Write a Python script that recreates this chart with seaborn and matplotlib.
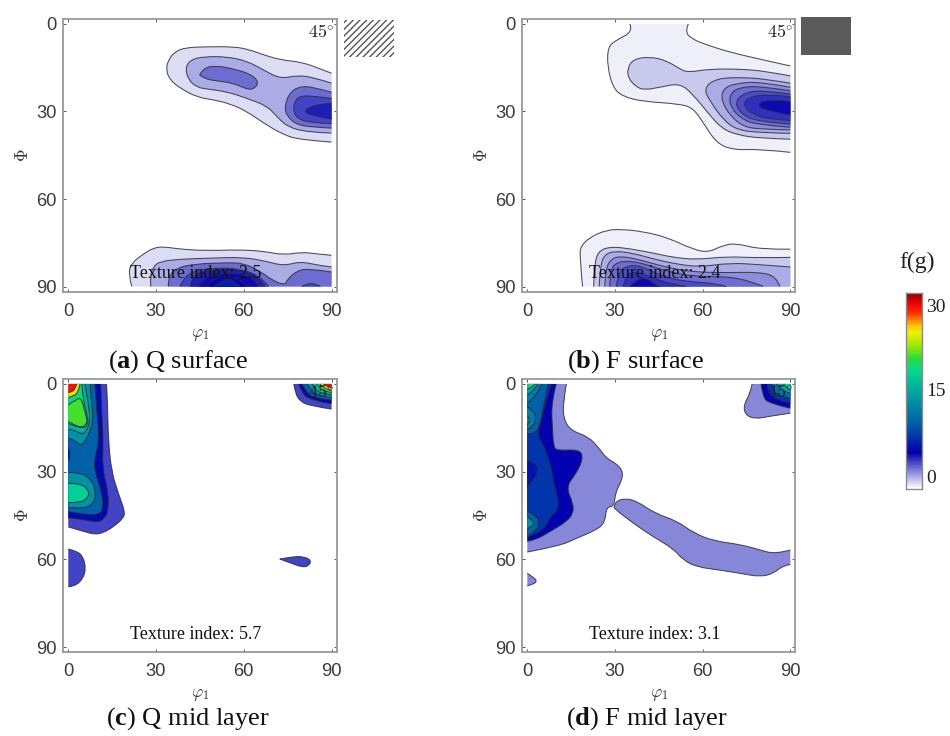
#!/usr/bin/env python3
import numpy as np
import matplotlib
matplotlib.use("Agg")
import matplotlib.pyplot as plt
from matplotlib.colors import LinearSegmentedColormap
from matplotlib.patches import PathPatch, Rectangle
from matplotlib.path import Path
import seaborn as sns

# colour scale of f(g)
scale_values = [0, 5.5, 10, 15, 18, 20, 22, 24, 25, 27, 28.5, 30]
scale_colors = ["#ffffff", "#0000b0", "#0060a8", "#00a8a0", "#00d890", "#28dc40",
                "#a0e800", "#f0f000", "#ffc800", "#ff3000", "#f00000", "#900000"]

# every contour: (level of f(g), outline as (phi1, Phi) pairs)
a_upper = [
    (0.8, [(90, 16.9), (86.2, 15.4), (79.9, 13.1), (72.5, 12.3), (66.8, 10.6), (61.6, 8.7), (56.5, 7.8), (47.4, 7.8),
           (40, 8.1), (36.5, 9.5), (34.2, 12.3), (33.4, 15.8), (34.8, 19.2), (38.2, 22), (44, 25.1), (49.7, 26),
           (55.4, 27.4), (61.1, 30), (66.8, 34), (73.6, 38), (79.3, 39.7), (90, 40.5)]),
    (1.85, [(40, 15.2), (41.7, 12.3), (46.2, 11.2), (54.2, 11.2), (61.1, 12.7), (66.8, 15.8), (72.5, 18.8), (78.2, 17.6),
            (83.9, 18.3), (90, 20.3), (90, 37.4), (81.6, 37.1), (74.8, 35.2), (71.3, 31.7), (67.9, 28.1), (61.1, 25.5),
            (54.2, 23.2), (47.4, 22.3), (44, 21.7), (41.1, 19.2)]),
    (3.2, [(44.9, 17.5), (46.2, 15), (50.8, 14.3), (56.5, 15.4), (62.2, 17.1), (65.1, 19.7), (63.9, 22), (61.6, 22.6),
           (56.5, 20.3), (50.8, 19.5), (46.8, 18.9)]),
    (3.2, [(90, 23.4), (84.9, 22), (79.9, 21.2), (75.8, 23.2), (73.9, 28.3), (74.8, 31.7), (78.2, 34.6), (84, 35.4), (90, 35.7)]),
    (4.1, [(90, 25.5), (84.9, 24.9), (79.9, 24.5), (77.6, 26), (76.8, 29.5), (78.2, 32.3), (82.2, 33.8), (90, 34.2)]),
    (4.9, [(90, 27.2), (84.9, 27.5), (79.9, 30), (84.9, 31.7), (90, 32.6)]),
]
a_lower = [
    (0.8, [(90, 79.3), (84.9, 78.8), (79.9, 78.2), (73.6, 79.2), (66.8, 77.9), (58.8, 77.4), (47.4, 77.7), (38.2, 77.2),
           (32.5, 76.3), (29.1, 76.8), (25.7, 78.8), (21.7, 81.9), (20.5, 85.4), (21.7, 90), (90, 90)]),
    (1.85, [(90, 83.3), (86, 82.8), (79.3, 81.4), (73.6, 82.9), (67.9, 81.4), (59.9, 79.9), (47.4, 80.3), (38.2, 80.6),
            (31.4, 81.4), (29.1, 83.1), (28, 86.5), (28.2, 90), (90, 90)]),
    (3.2, [(34.2, 90), (34.2, 86.5), (37, 83.7), (42.7, 82.3), (54.2, 81.8), (60, 82), (65.6, 84.8), (70, 88), (74, 89.5),
           (75, 87.5), (78, 84.7), (82, 83.8), (90, 85), (90, 90)]),
    (4.1, [(38.2, 90), (39, 87.7), (42.8, 84.5), (50.8, 83.5), (58.8, 84), (64.5, 86), (68, 89.3), (68.5, 90)]),
    (4.1, [(79.9, 90), (82.8, 88), (86.2, 90)]),
    (4.9, [(41.7, 90), (42.2, 87.1), (45, 84.8), (54.2, 84), (61, 84.8), (65.6, 87.1), (67.3, 90)]),
    (5.3, [(44.5, 90), (46, 87.5), (50, 85.8), (56, 85.3), (61, 86), (64.5, 88.5), (65, 90)]),
    (5.5, [(47.4, 90), (49.7, 87.1), (54.2, 86.5), (59.4, 87.7), (61, 90)]),
    (7, [(49.7, 90), (53, 87.5), (56.5, 87.5), (58.8, 90)]),
]
b_upper = [
    (0.4, [(35.1, 0), (36.2, 2.6), (30.5, 5.5), (27.6, 7.8), (27.4, 14.6), (29.4, 22), (32.8, 24.9), (39.7, 26.6), (52.3, 27.4),
           (56.8, 28.9), (60.3, 34), (64.8, 40.9), (70.5, 43.2), (79.7, 42.9), (90, 44), (90, 14.4), (79.7, 12.1), (69.4, 9.7),
           (61.4, 7.2), (56.2, 5.1), (54, 2.6), (55.1, 0)]),
    (1.2, [(90, 17.8), (82, 16.3), (74, 15.5), (62.6, 15.4), (55.1, 16.6), (52.3, 15.5), (47.7, 12.6), (42, 11.2), (36.2, 12.1),
           (34.3, 15.2), (34.5, 18.6), (37.4, 21.7), (40.2, 22.6), (45.4, 21.7), (52.3, 20.3), (56.8, 24.3), (61.9, 30.6),
           (66.5, 35.8), (71.7, 38), (79.7, 39.2), (90, 39.5)]),
    (1.85, [(90, 20.3), (82, 19), (74, 18.3), (64.8, 18.6), (60.3, 22), (62.6, 26.6), (67.1, 32.9), (71.7, 36.3), (79.7, 37.3), (90, 37.5)]),
    (2.5, [(90, 21.7), (79.7, 19.8), (71.7, 20.3), (67.1, 22), (66.3, 26), (69.4, 31.5), (74, 35.2), (79.7, 36.1), (90, 36.3)]),
    (3.2, [(90, 22.9), (79.7, 21.3), (72.8, 21.7), (69.4, 23.8), (69.2, 27.8), (72.8, 32.3), (78.5, 34.6), (90, 35.4)]),
    (3.9, [(90, 24), (79.7, 22.6), (74, 23.8), (71.1, 26.6), (72.8, 30.6), (78.5, 33.5), (90, 34.3)]),
    (4.5, [(90, 24.9), (80.9, 24), (75.1, 25.5), (73.9, 28.1), (77.4, 31.2), (83, 32.7), (90, 33.1)]),
    (5.3, [(90, 26.6), (83, 25.7), (78, 27.8), (83, 30), (90, 31.2)]),
]
b_lower = [
    (0.4, [(90, 77.2), (79.7, 77.3), (71.7, 75.2), (67.1, 75.8), (62, 78.3), (56.8, 77.3), (47.7, 73.1), (39.7, 71.2), (32.8, 70.4),
           (27.1, 70.6), (21.4, 73.1), (18.2, 76.3), (18, 79.8), (18.9, 90), (90, 90)]),
    (1.2, [(22.7, 90), (23, 82.6), (24.2, 78), (28.2, 76.3), (35, 77), (43, 78.5), (49.9, 80), (57.9, 80.8), (68.1, 79.7),
           (79.6, 80.2), (90, 80), (90, 90)]),
    (1.85, [(24.6, 90), (25, 82.6), (26.5, 79), (30, 77.8), (36.2, 78.6), (43, 80.5), (51, 82.3), (59, 83.3), (69.3, 81.9),
            (79.6, 82.5), (90, 83.3), (90, 90)]),
    (2.5, [(26.5, 90), (26.8, 83.8), (28.8, 80.5), (31.6, 79.6), (37.3, 80.5), (45.3, 82.8), (54.4, 84.8), (65.8, 85.3),
           (79.6, 85), (85.3, 86.7), (86.4, 90)]),
    (3.2, [(28.2, 90), (28.4, 84.3), (30.5, 81.7), (35, 81.2), (40.7, 82.4), (47.6, 84.7), (56.7, 86.6), (70.4, 86.6), (79.6, 89.4), (80.7, 90)]),
    (3.9, [(30.5, 90), (31, 84.9), (35, 82.6), (39.6, 83.2), (46.4, 86.6), (54.4, 88.3), (64.7, 88.9), (68.1, 90)]),
    (4.5, [(32.8, 90), (33.9, 85.8), (37.3, 84.8), (43, 87), (48.7, 89), (54.4, 90)]),
    (5.3, [(35.2, 90), (37.3, 87.7), (40.7, 87), (44.1, 89.7), (45.3, 90)]),
]
c_left = [
    (4.1, [(13.1, 0), (13.4, 5.5), (13.7, 19.2), (14.8, 30), (17.1, 37.4), (19.4, 43.7), (18.8, 46), (15.4, 48.9), (12, 50.9),
           (9.1, 51.5), (5.7, 50.6), (0, 48.9), (0, 0)]),
    (6, [(11.1, 0), (11.4, 10), (12, 20.3), (11.6, 28.3), (13.7, 37.4), (13.7, 43.1), (12.6, 45.7), (10.3, 47.5), (5.1, 46.3), (0, 45.8), (0, 0)]),
    (10, [(9.1, 0), (9.7, 8.9), (10.6, 19.2), (8.9, 26), (9.1, 30), (11.4, 37), (12, 42), (10.8, 44.5), (7.4, 44.9), (0, 43.7), (0, 0)]),
    (6, [(0, 21.7), (1.1, 24.3), (0, 26.3)]),
    (13.5, [(7.4, 0), (8, 6.6), (8.6, 13.5), (4.9, 21.7), (2.3, 19.2), (0, 18.4), (0, 0)]),
    (15.5, [(5.7, 0), (6.8, 6), (7.6, 13.5), (5.1, 17.5), (2.5, 16), (0, 15.4), (0, 0)]),
    (18.5, [(4.6, 0), (5.1, 5.5), (6.6, 11.2), (6.8, 14), (4.6, 15.4), (0, 13.5), (0, 0)]),
    (20.5, [(0, 7.2), (3, 5), (4.5, 5), (5.5, 9), (6.3, 11.5), (6.4, 13.5), (4.6, 15), (2, 14), (0, 12.8)]),
    (24.5, [(4, 0), (3.4, 3.2), (1.1, 4.3), (0, 4.7), (0, 0)]),
    (28, [(2.9, 0), (2.3, 2), (0.6, 2.9), (0, 2.9), (0, 0)]),
    (13.5, [(0, 30.3), (4.6, 30.3), (8, 32.9), (9.5, 37.4), (8.6, 40.9), (5.1, 42.8), (0, 42.2)]),
    (17.5, [(0, 34), (4.6, 34), (7.2, 36.9), (6.8, 38.6), (4.6, 40.6), (0, 40.6)]),
    (4.1, [(0, 56.5), (2.9, 57.1), (5.1, 59.1), (6, 63.1), (5.1, 66.6), (2.3, 69.2), (0, 69.4)]),
]
c_right = [
    (4.1, [(72.3, 59.9), (77, 59), (80.5, 59.1), (83.1, 60.3), (82.2, 62.3), (79.9, 62.7), (75.9, 61.2)]),
    (4.1, [(77.1, 0), (77.6, 3.2), (79.3, 6), (82.8, 7.5), (90, 8.6), (90, 0)]),
    (6, [(78.8, 0), (79.9, 3.2), (82.8, 5.5), (90, 6.8), (90, 0)]),
    (10, [(79.9, 0), (81.6, 3.2), (84.5, 4.9), (90, 5.5), (90, 0)]),
    (13.5, [(81.6, 0), (83.3, 2.6), (85.6, 4.1), (90, 4.6), (90, 0)]),
    (16, [(83.3, 0), (84.5, 2.1), (86.8, 3.2), (90, 3.8), (90, 0)]),
    (20.5, [(85, 0), (86, 1.5), (87.9, 2.6), (90, 2.9), (90, 0)]),
    (24.5, [(86, 0), (87.3, 1.5), (90, 2.3), (90, 0)]),
    (28, [(87.2, 0), (88.5, 0.9), (90, 1.4), (90, 0)]),
]
d_left = [
    (2.6, [(13.4, 0), (12.2, 6.6), (12.5, 12.3), (15.1, 16), (20.8, 18), (24.2, 21.5), (27.1, 25.5), (30.5, 27.2), (32.8, 30),
           (32.2, 33.4), (30.2, 36.9), (29.7, 42), (27.1, 42), (26.5, 47.7), (23.1, 50.2), (16.8, 52.8), (11.1, 55.4), (0, 57.5), (0, 0)]),
    (5.5, [(9.9, 0), (8.2, 6.6), (8.6, 15.2), (9, 21.5), (10.2, 22.8), (18, 22.4), (19.1, 25.5), (16.8, 30.6), (13.2, 35.2),
           (15.7, 40.9), (15.7, 44.3), (13.4, 47.1), (7.7, 50.6), (2.5, 53.5), (0, 53.8), (0, 0)]),
    (8, [(8.2, 0), (6.5, 5.5), (5.1, 11.2), (3.3, 17.5), (5.4, 20.3), (8.2, 28.3), (9.4, 35.2), (11.1, 42.6), (7.7, 45.4),
         (6.8, 48.3), (3.7, 51.1), (0, 52.3), (0, 0)]),
    (6.5, [(0, 26), (3.1, 27.2), (3.7, 30), (1.9, 32.9), (0, 35.2)]),
    (10, [(7.1, 0), (5.4, 8.3), (3.6, 17.5), (0, 17), (0, 0)]),
    (10, [(0, 43.5), (2.8, 44.9), (4.2, 47.7), (2.8, 50.5), (0, 52.2)]),
    (13.5, [(0, 45.4), (2.3, 47.1), (2.3, 48.3), (0, 49.5)]),
    (12, [(0, 7.8), (2.5, 9.5), (3, 12.3), (1.9, 14.6), (0, 15.7)]),
    (13.5, [(0, 11), (1.5, 12), (0, 14)]),
    (12, [(4.8, 0), (3.6, 3.8), (0, 6.6), (0, 0)]),
    (15, [(3.6, 0), (1.9, 2.6), (0, 3.8), (0, 0)]),
    (18, [(2.8, 0), (1.3, 1.3), (0, 1.8), (0, 0)]),
    (2.6, [(0, 64.8), (2, 66), (3.4, 67.5), (2, 68.5), (0, 69.1)]),
]
d_right = [
    (2.6, [(29.7, 42), (30.5, 40), (33.4, 39.2), (37.4, 40), (43.7, 44.3), (51.1, 46.8), (56.8, 50.9), (63.7, 53.7), (72.9, 54.9),
           (79.7, 56.8), (84.9, 58.2), (90, 56.8), (90, 61.8), (87.7, 62), (84.3, 64.8), (79.7, 66), (72.9, 64.8), (66, 63.7),
           (58, 62.6), (53.4, 60.3), (49.9, 56.3), (43.1, 52.3), (36.3, 47.7), (29.7, 42.6)]),
    (2.6, [(76.9, 0), (76.3, 3.2), (74, 7.2), (74.6, 10.6), (78, 12), (83.1, 11), (90, 10), (90, 0)]),
    (5.5, [(80, 0), (80.6, 4.3), (82.6, 6.6), (90, 8.3), (90, 0)]),
    (8, [(82, 0), (82.6, 3.2), (84.9, 5.3), (90, 6.6), (90, 0)]),
    (11, [(83.7, 0), (84.3, 2.6), (86.6, 4.3), (90, 4.9), (90, 0)]),
    (15, [(85.4, 0), (86.6, 2.1), (90, 3.2), (90, 0)]),
    (18, [(87.7, 0), (88.3, 1.1), (90, 2.1), (90, 0)]),
]

panel_contours = [a_upper + a_lower, b_upper + b_lower, c_left + c_right, d_left + d_right]
panel_captions = [r"($\mathbf{a}$) Q surface", r"($\mathbf{b}$) F surface",
                  r"($\mathbf{c}$) Q mid layer", r"($\mathbf{d}$) F mid layer"]
texture_index = ["2.5", "2.4", "5.7", "3.1"]
axis_ticks = [0, 30, 60, 90]
scale_ticks = [0, 5, 10, 15, 20, 25, 30]
scale_labels = ["30", "15", "0"]

W, H = 950, 736
sns.set_style("white")
plt.rcParams["font.family"] = ["Liberation Serif", "DejaVu Serif"]
plt.rcParams["mathtext.fontset"] = "custom"
plt.rcParams["mathtext.rm"] = "Liberation Serif"
plt.rcParams["mathtext.bf"] = "Liberation Serif:bold"
plt.rcParams["hatch.linewidth"] = 1.0

cmap = LinearSegmentedColormap.from_list("odf", [(v / 30, c) for v, c in zip(scale_values, scale_colors)], N=512)


def px_axes(fig, left, top, right, bottom):
    return fig.add_axes([left / W, 1 - bottom / H, (right - left) / W, (bottom - top) / H])


def on_border(p, q):
    return (p[0] == q[0] and p[0] in (0, 90)) or (p[1] == q[1] and p[1] in (0, 90))


def rounded_run(run):
    """Path pieces through the read points of one contour run, corners rounded."""
    if len(run) == 2:
        return [run[1]], [Path.LINETO]
    verts, codes = [], []
    for k in range(1, len(run) - 1):
        end = run[k + 1] if k == len(run) - 2 else ((run[k][0] + run[k + 1][0]) / 2, (run[k][1] + run[k + 1][1]) / 2)
        verts += [run[k], end]
        codes += [Path.CURVE3, Path.CURVE3]
    return verts, codes


def draw_contour(ax, level, outline):
    closed = list(outline) + [outline[0]]
    # split where the outline runs along the edge of the map: no line is drawn there
    runs, cur = [], [closed[0]]
    for p, q in zip(closed[:-1], closed[1:]):
        if on_border(p, q):
            runs.append(cur)
            cur = [q]
        else:
            cur.append(q)
    runs.append(cur)
    if len(runs) > 1 and len(runs[-1]) > 1:
        runs[0] = runs.pop() + runs[0][1:]

    fill_v, fill_c = [runs[0][0]], [Path.MOVETO]
    line_v, line_c = [], []
    for r in runs:
        if fill_v[-1] != r[0]:
            fill_v.append(r[0])
            fill_c.append(Path.LINETO)
        if len(r) > 1:
            v, c = rounded_run(r)
            fill_v += v
            fill_c += c
            line_v += [r[0]] + v
            line_c += [Path.MOVETO] + c
    fill_v.append(fill_v[0])
    fill_c.append(Path.LINETO)
    ax.add_patch(PathPatch(Path(fill_v, fill_c), facecolor=cmap(level / 30), lw=0, zorder=2))
    ax.add_patch(PathPatch(Path(line_v, line_c), facecolor="none", edgecolor="#2c2c38", lw=0.75, alpha=0.85, zorder=3))


fig = plt.figure(figsize=(W / 100, H / 100), dpi=100)
boxes = [(63.3, 19, 336.5, 291.5), (522.3, 19, 795.3, 291.5), (63.3, 379, 336.5, 652), (522.3, 379, 795.3, 652)]
caption_x = [178, 636, 188, 647]
caption_y = [362, 362, 719, 719]

for i, box in enumerate(boxes):
    ax = px_axes(fig, *box)
    for level, outline in panel_contours[i]:
        draw_contour(ax, level, outline)
    ax.set_xlim(-1.7, 91.7)
    ax.set_ylim(91.7, -1.7)
    ax.set_xticks(axis_ticks)
    ax.set_yticks(axis_ticks)
    ax.tick_params(direction="in", length=2.5, width=0.7, color="#555555", top=True, right=True, bottom=True, left=True,
                   labelsize=13.2, labelcolor="#3c3c3c", labelfontfamily="Liberation Sans")
    ax.tick_params(axis="x", pad=8)
    ax.tick_params(axis="y", pad=5)
    for side in ax.spines.values():
        side.set_color("#9a9a9a")
        side.set_linewidth(1.3)
    ax.set_xlabel(r"$\varphi_1$", fontsize=12.5, math_fontfamily="cm", color="#333333", labelpad=5)
    ax.set_ylabel(r"$\Phi$", fontsize=12.5, math_fontfamily="cm", color="#333333", labelpad=3)
    ax.text(91, 3, r"$45^{\circ}$", ha="right", va="center", fontsize=13, math_fontfamily="cm", color="#222222", zorder=5)
    ax.text(43.7, 85.6, "Texture index: " + texture_index[i], ha="center", va="center", fontsize=13, color="#111111", zorder=5)
    fig.text(caption_x[i] / W, 1 - caption_y[i] / H, panel_captions[i], ha="center", va="center", fontsize=19, color="#111111")

# texture swatches next to the top panels
fig.add_artist(Rectangle((344 / W, 1 - 57 / H), 50 / W, 37 / H, transform=fig.transFigure,
                         facecolor="white", edgecolor="#555555", hatch="/////", lw=0))
fig.add_artist(Rectangle((801 / W, 1 - 55 / H), 50 / W, 38 / H, transform=fig.transFigure, facecolor="#5a5a5a", lw=0))

# colour bar
cax = px_axes(fig, 906, 293, 922, 489)
gradient = np.linspace(30, 0, 196).reshape(-1, 1)
sns.heatmap(gradient, ax=cax, cmap=cmap, vmin=0, vmax=30, cbar=False, xticklabels=False, yticklabels=False)
cax.set_yticks([196 * (1 - t / 30) for t in scale_ticks])
cax.tick_params(axis="y", direction="in", right=True, left=False, length=3, width=0.7, color="#444444", labelright=False, labelleft=False)
for side in cax.spines.values():
    side.set_visible(True)
    side.set_color("#8a8a8a")
    side.set_linewidth(1)
for label, ypx in zip(scale_labels, [307, 392, 478]):
    fig.text(926 / W, 1 - ypx / H, label, ha="left", va="center", fontsize=14, color="#222222")
fig.text(917 / W, 1 - 262 / H, "f(g)", ha="center", va="center", fontsize=17, color="#222222")

fig.savefig("out.png", dpi=100)
